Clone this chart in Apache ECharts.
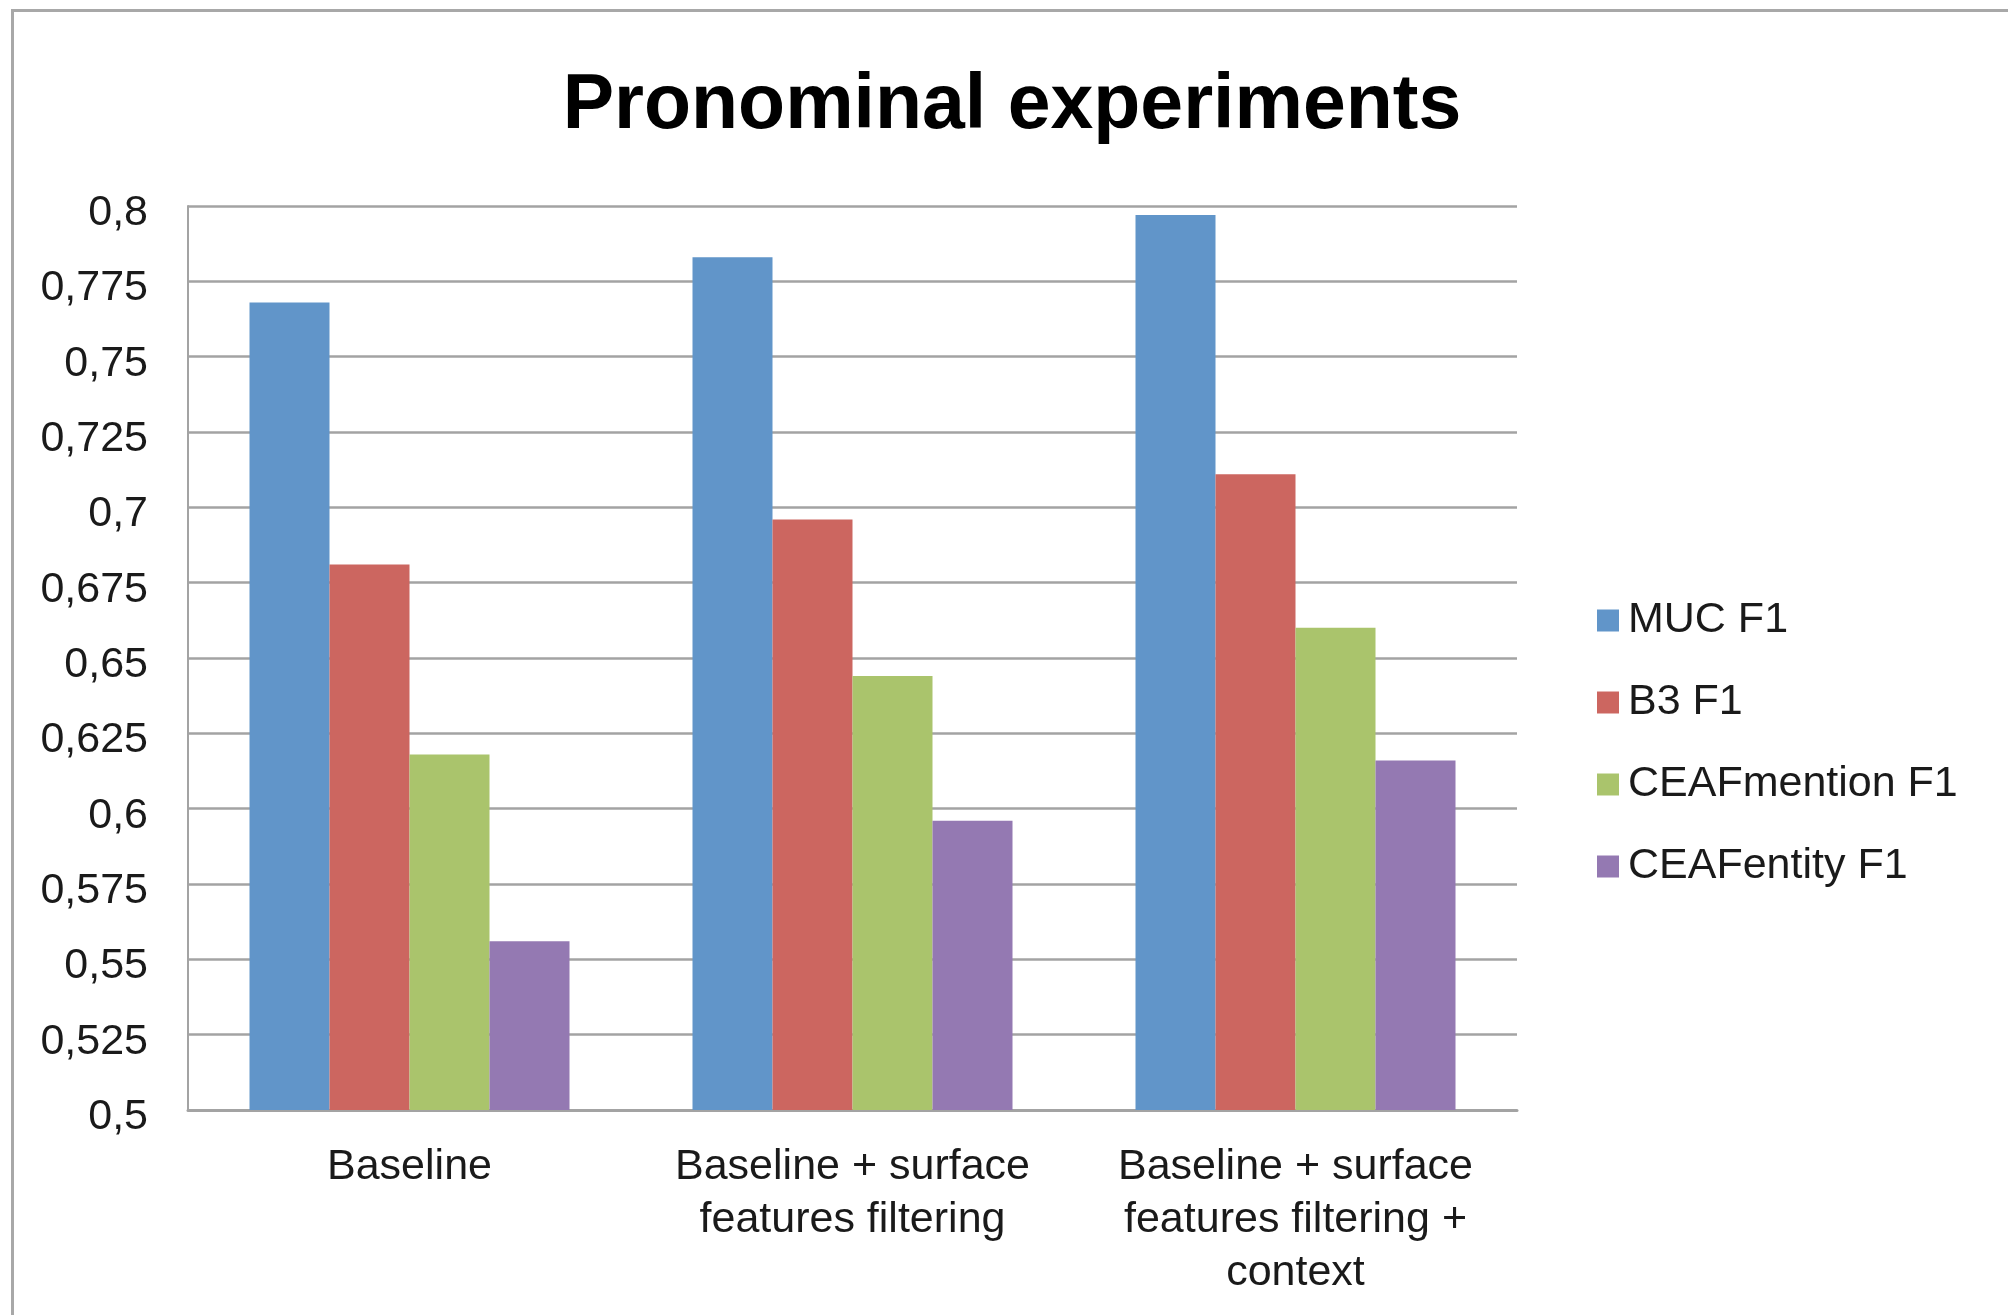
<!DOCTYPE html>
<html>
<head>
<meta charset="utf-8">
<title>Pronominal experiments</title>
<script src="https://cdn.jsdelivr.net/npm/echarts@6/dist/echarts.min.js"></script>
<style>
  html, body { margin: 0; padding: 0; background: #ffffff; }
  #chart { width: 2008px; height: 1315px; }
</style>
</head>
<body>
<div id="chart"></div>
<script>
// Coreference scores (F1) for the three pronominal resolution setups
const categories = [
  'Baseline',
  'Baseline + surface\nfeatures filtering',
  'Baseline + surface\nfeatures filtering +\ncontext'
];
const seriesNames = ['MUC F1', 'B3 F1', 'CEAFmention F1', 'CEAFentity F1'];
const mucF1 = [0.768, 0.783, 0.797];
const b3F1 = [0.681, 0.696, 0.711];
const ceafMentionF1 = [0.618, 0.644, 0.660];
const ceafEntityF1 = [0.556, 0.596, 0.616];
const seriesColors = ['#6195c9', '#cc6660', '#aac46c', '#9479b2'];

const yMin = 0.5, yMax = 0.8, yStep = 0.025;

const FONT = '"Liberation Sans", Arial, Helvetica, sans-serif';
const GRID_GREY = '#a3a3a3';
const TEXT_SIZE = 43;

const chart = echarts.init(document.getElementById('chart'), null, { renderer: 'canvas' });

const values = [mucF1, b3F1, ceafMentionF1, ceafEntityF1];

chart.setOption({
  backgroundColor: '#ffffff',
  animation: false,
  color: seriesColors,
  title: {
    text: 'Pronominal experiments',
    left: 1012,
    top: 68,
    textAlign: 'center',
    padding: 0,
    textStyle: {
      fontFamily: FONT,
      fontWeight: 'bold',
      fontSize: 77,
      color: '#000000'
    }
  },
  legend: {
    orient: 'vertical',
    left: 1597,
    top: 599,
    padding: 0,
    itemWidth: 22,
    itemHeight: 22,
    itemGap: 39,
    icon: 'rect',
    data: seriesNames,
    textStyle: {
      fontFamily: FONT,
      fontSize: TEXT_SIZE,
      color: '#1a1a1a',
      padding: [0, 0, 0, 4]
    }
  },
  grid: {
    left: 188,
    right: 491,
    top: 206,
    bottom: 205,
    containLabel: false
  },
  xAxis: {
    type: 'category',
    data: categories,
    axisTick: { show: false },
    axisLine: { show: true, lineStyle: { color: GRID_GREY, width: 3 } },
    axisLabel: {
      interval: 0,
      margin: 31,
      fontFamily: FONT,
      fontSize: TEXT_SIZE,
      lineHeight: 53,
      color: '#1a1a1a',
      align: 'center'
    }
  },
  yAxis: {
    type: 'value',
    min: yMin,
    max: yMax,
    interval: yStep,
    axisLine: { show: true, lineStyle: { color: GRID_GREY, width: 2 } },
    axisTick: { show: false },
    splitLine: { show: true, lineStyle: { color: GRID_GREY, width: 2.5 } },
    axisLabel: {
      margin: 40,
      fontFamily: FONT,
      fontSize: TEXT_SIZE,
      color: '#1a1a1a',
      verticalAlign: 'top',
      lineHeight: 14,
      formatter: v => String(+v.toFixed(3)).replace('.', ',')
    }
  },
  series: seriesNames.map((name, i) => ({
    name: name,
    type: 'bar',
    data: values[i],
    barWidth: 80,
    barGap: '0%',
    itemStyle: { color: seriesColors[i] }
  })),
  graphic: [{
    type: 'rect',
    left: 10,
    top: 8,
    shape: { width: 2100, height: 1400 },
    style: { fill: null, stroke: '#a8a8a8', lineWidth: 3 },
    silent: true,
    z: 100
  }]
});
</script>
</body>
</html>
